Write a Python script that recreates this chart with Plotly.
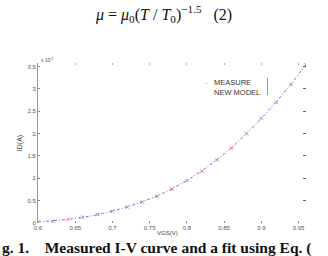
import plotly.graph_objects as go

# ---- data (ID in units of 1e-5 A) ----
vgs = [0.60, 0.62, 0.64, 0.66, 0.68, 0.70, 0.72, 0.74, 0.76, 0.78,
       0.80, 0.82, 0.84, 0.86, 0.88, 0.90, 0.92, 0.94, 0.96]
id_measure = [0.02, 0.04, 0.08, 0.13, 0.19, 0.26, 0.36, 0.47, 0.60, 0.76,
              0.95, 1.16, 1.41, 1.68, 2.00, 2.34, 2.70, 3.10, 3.54]
id_model = [0.02, 0.045, 0.08, 0.125, 0.185, 0.265, 0.36, 0.475, 0.605, 0.765,
            0.95, 1.165, 1.41, 1.685, 2.00, 2.34, 2.71, 3.11, 3.55]

x_ticks = [0.6, 0.65, 0.7, 0.75, 0.8, 0.85, 0.9, 0.95]
x_tick_labels = ["0.6", "0.65", "0.7", "0.75", "0.8", "0.85", "0.9", "0.95"]
y_ticks = [0, 0.5, 1, 1.5, 2, 2.5, 3, 3.5]
y_tick_labels = ["0", "0.5", "1", "1.5", "2", "2.5", "3", "3.5"]

X_RANGE = [0.6, 0.96]
Y_RANGE = [0, 3.58]

sans = "Liberation Sans, Arial"
tick_font = dict(family=sans, size=6, color="#555")

fig = go.Figure()
fig.add_trace(go.Scatter(
    x=vgs, y=id_model, mode="lines", name="NEW MODEL",
    line=dict(color="#7070f0", width=1, dash="3px,2px,1px,2px"),
))
fig.add_trace(go.Scatter(
    x=vgs, y=id_measure, mode="markers", name="MEASURE",
    marker=dict(symbol="x-thin-open", size=3.5, color="#e07890",
                line=dict(color="#e07890", width=1)),
))

fig.update_layout(
    width=328, height=256,
    margin=dict(l=38, r=22, t=63, b=33),
    paper_bgcolor="white", plot_bgcolor="white",
    showlegend=False,
    xaxis=dict(range=X_RANGE, tickvals=x_ticks, ticktext=x_tick_labels,
               ticks="inside", ticklen=2, tickcolor="#888", showgrid=False,
               zeroline=False, showline=False, tickfont=tick_font),
    yaxis=dict(range=Y_RANGE, tickvals=y_ticks, ticktext=y_tick_labels,
               ticks="inside", ticklen=2, tickcolor="#888", showgrid=False,
               zeroline=False, showline=True, linecolor="#999", linewidth=1,
               tickfont=tick_font,
               title=dict(text="ID(A)", font=dict(family=sans, size=7, color="#444"),
                          standoff=4)),
    xaxis2=dict(range=X_RANGE, tickvals=x_ticks, overlaying="x", side="top",
                ticks="inside", ticklen=2, tickcolor="#aaa", showticklabels=False,
                showgrid=False, zeroline=False, showline=False, anchor="y"),
    yaxis2=dict(range=Y_RANGE, tickvals=y_ticks, overlaying="y", side="right",
                ticks="inside", ticklen=3, tickcolor="#666", showticklabels=False,
                showgrid=False, zeroline=False, showline=False, anchor="x"),
)
# invisible traces to activate mirrored tick axes
fig.add_trace(go.Scatter(x=[X_RANGE[0]], y=[Y_RANGE[0]], xaxis="x2", yaxis="y",
                         mode="markers", marker=dict(opacity=0), showlegend=False, hoverinfo="skip"))
fig.add_trace(go.Scatter(x=[X_RANGE[0]], y=[Y_RANGE[0]], xaxis="x", yaxis="y2",
                         mode="markers", marker=dict(opacity=0), showlegend=False, hoverinfo="skip"))

def px2xp(px):
    return (px - 38) / 268.0

def py2yp(py):
    return (223 - py) / 160.0

serif = "Liberation Serif, Times New Roman, serif"
annotations = [
    dict(text="<i>μ</i> = <i>μ</i><sub>0</sub>(<i>T</i> / <i>T</i><sub>0</sub>)<sup>−1.5</sup>&nbsp;&nbsp;&nbsp;(2)",
         x=px2xp(163), y=py2yp(14), xref="paper", yref="paper",
         xanchor="center", yanchor="middle", showarrow=False,
         font=dict(family=serif, size=16, color="#111")),
    dict(text="VGS(V)", x=px2xp(167), y=py2yp(233), xref="paper", yref="paper",
         xanchor="center", yanchor="middle", showarrow=False,
         font=dict(family=sans, size=6, color="#444")),
    dict(text="<b>g. 1.&nbsp;&nbsp;&nbsp;&nbsp;Measured I-V curve and a fit using Eq. (</b>",
         x=px2xp(0), y=py2yp(247.5), xref="paper", yref="paper",
         xanchor="left", yanchor="middle", showarrow=False,
         font=dict(family=serif, size=15.5, color="#111")),
    dict(text="x 10<sup>-5</sup>", x=px2xp(39), y=py2yp(60), xref="paper", yref="paper",
         xanchor="left", yanchor="middle", showarrow=False,
         font=dict(family=sans, size=5, color="#555")),
    dict(text="MEASURE<br>NEW MODEL", x=px2xp(212), y=py2yp(87), xref="paper", yref="paper",
         xanchor="left", yanchor="middle", align="left", showarrow=False,
         font=dict(family=sans, size=7.5, color="#333")),
    dict(text="-", x=px2xp(206), y=py2yp(82.5), xref="paper", yref="paper",
         xanchor="center", yanchor="middle", showarrow=False,
         font=dict(family=sans, size=7, color="#e07890")),
]
fig.update_layout(annotations=annotations)
fig.add_shape(type="line", xref="paper", yref="paper",
              x0=px2xp(267.5), x1=px2xp(267.5), y0=py2yp(95), y1=py2yp(78),
              line=dict(color="#999", width=1))

fig.write_html("out.html")
